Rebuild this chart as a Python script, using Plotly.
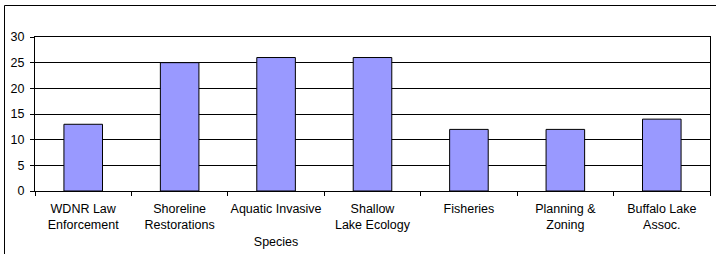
import plotly.graph_objects as go

categories = ["WDNR Law<br>Enforcement", "Shoreline<br>Restorations", "Aquatic Invasive<br> <br>Species",
              "Shallow<br>Lake Ecology", "Fisheries", "Planning &<br>Zoning", "Buffalo Lake<br>Assoc."]
values = [13, 25, 26, 26, 12, 12, 14]
y_ticks = [0, 5, 10, 15, 20, 25, 30]

fig = go.Figure(go.Bar(x=categories, y=values, marker=dict(color="#9999FF", line=dict(color="black", width=1))))

L, R, T, B = 35, 6, 37, 63
W, H = 716, 254
pw, ph = W - L - R, H - T - B
def px(x): return (x - L) / pw
def py(y): return (H - B - y) / ph

fig.update_layout(
    width=W, height=H, margin=dict(l=L, r=R, t=T, b=B),
    paper_bgcolor="white", plot_bgcolor="white", bargap=0.6, showlegend=False,
    font=dict(family="Liberation Sans", size=12.5, color="black"),
    xaxis=dict(showline=True, linecolor="black", linewidth=1, ticks="outside", tickson="boundaries",
               ticklen=4, tickcolor="black", showgrid=False, mirror=True, tickangle=0, automargin=False,
               ticklabelstandoff=6),
    yaxis=dict(range=[0, 30], tickvals=y_ticks, showline=True, linecolor="black", linewidth=1, mirror=True,
               ticks="outside", ticklen=4, tickcolor="black", showgrid=True, gridcolor="black", gridwidth=1,
               zeroline=False, automargin=False, ticklabelstandoff=3),
    shapes=[
        dict(type="line", xref="paper", yref="paper", x0=px(4.5), x1=px(716), y0=py(5.5), y1=py(5.5),
             line=dict(color="black", width=1)),
        dict(type="line", xref="paper", yref="paper", x0=px(4.5), x1=px(4.5), y0=py(5.5), y1=py(254),
             line=dict(color="black", width=1)),
    ],
)
fig.write_html("out.html", config={"displayModeBar": False},
               post_script="document.body.style.margin='0';document.body.style.overflow='hidden';")
